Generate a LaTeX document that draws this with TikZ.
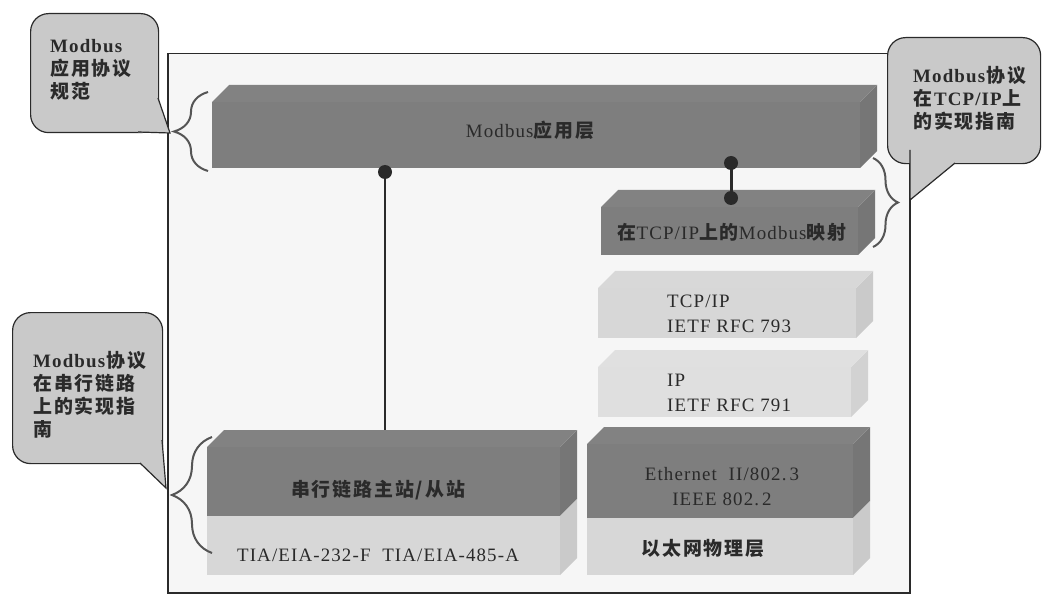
\documentclass[tikz,border=0pt]{standalone}
\usepackage{fontspec}
\setmainfont{Liberation Serif}[LetterSpace=6]
\newfontfamily\cjkf{Noto Sans CJK SC}[LetterSpace=10]
\newcommand\zh[1]{{\cjkf\bfseries #1}}
\usetikzlibrary{decorations.pathreplacing}
\definecolor{boxdark}{HTML}{7E7E7E}
\definecolor{boxlight}{HTML}{D7D7D7}
\definecolor{boxpale}{HTML}{DFDFDF}
\definecolor{callgray}{HTML}{C9C9C9}
\definecolor{framebg}{HTML}{F6F6F6}
\definecolor{ink}{HTML}{2A2A2A}
\definecolor{bracegray}{HTML}{555555}
\newcommand\layerbox[6]{%
  \pgfmathsetmacro\lw{#4-17-(#2)}\pgfmathsetmacro\lh{#5-(#3)-17}%
  \fill[#6!94!black] (#4-17,#3+17) -- (#4,#3) -- (#4,#5-17) -- (#4-17,#5) -- cycle;
  \fill[#6!97!white] (#2,#3+17) -- (#2+17,#3) -- (#4,#3) -- (#4-17,#3+17) -- cycle;
  \node[fill=#6, draw=none, inner sep=0, minimum width=\lw bp, minimum height=\lh bp, anchor=north west] (#1) at (#2,#3+17) {};
}
\newcommand\layerlow[6]{%
  \pgfmathsetmacro\lw{#4-17-(#2)}\pgfmathsetmacro\lh{#5-(#3)}%
  \fill[#6!94!black] (#4-17,#3) -- (#4,#3-17) -- (#4,#5-17) -- (#4-17,#5) -- cycle;
  \node[fill=#6, draw=none, inner sep=0, minimum width=\lw bp, minimum height=\lh bp, anchor=north west] (#1) at (#2,#3) {};
}
\tikzset{
  callout/.style={fill=callgray, draw=ink, line width=1.2bp, rounded corners=18bp, inner sep=0, anchor=north west},
  calltext/.style={align=left, anchor=north west, inner sep=0, text=ink, font=\fontsize{19}{23}\selectfont},
  boxtext/.style={text=ink, inner sep=0, font=\fontsize{19}{25}\selectfont},
  bracestyle/.style={draw=bracegray, line width=2bp, decorate, decoration={brace, amplitude=#1}},
  dot/.style={circle, fill=ink, inner sep=0, minimum size=14bp},
  conn/.style={draw=ink, line width=1.5bp},
}
\begin{document}
\begin{tikzpicture}[x=1bp,y=-1bp]
\useasboundingbox[fill=white] (0,0) rectangle (1042,594);
% frame
\node[draw=ink, fill=framebg, line width=1.5bp, inner sep=0, minimum width=742bp, minimum height=539bp, anchor=north west] (frame) at (167,53) {};

% dots positions and connectors (drawn before boxes)
\coordinate (d1) at (385,172);
\coordinate (d2) at (731,163);
\coordinate (d3) at (731,198);
\coordinate (s1) at (385,440);
\draw[conn] (d1) -- (s1);

% layers
\layerbox{app}{212}{85}{877}{168}{boxdark}
\layerbox{map}{601}{190}{875}{255}{boxdark}
\layerbox{tcp}{598}{271}{873}{338}{boxlight}
\layerbox{ip}{598}{350}{868}{417}{boxpale}
\layerbox{eth}{587}{427}{870}{518}{boxdark}
\layerlow{ethphy}{587}{518}{870}{575}{boxlight}
\layerbox{ser}{207}{430}{577}{516}{boxdark}
\layerlow{serphy}{207}{516}{577}{575}{boxlight}

% link dots
\draw[draw=ink, line width=3bp] (d2) -- (d3);
\node[dot] (dot1) at (d1) {};
\node[dot] (dot2) at (d2) {};
\node[dot] (dot3) at (d3) {};

% layer texts
\node[boxtext] (tapp) at (530,130) {Modbus\zh{应用层}};
\node[boxtext] (tmap) at (732,232) {\zh{在}TCP/IP\zh{上的}Modbus\zh{映射}};
\node[boxtext, align=left, anchor=west] (ttcp) at (667,314) {TCP/IP\\IETF RFC 793};
\node[boxtext, align=left, anchor=west] (tip) at (667,393) {IP\\IETF RFC 791};
\node[boxtext, align=center] (teth) at (722,487) {Ethernet\ \ II/802.\,3\\IEEE 802.\,2};
\node[boxtext] (tethphy) at (703,548) {\zh{以太网物理层}};
\node[boxtext] (tser) at (378,490) {\zh{串行链路主站/从站}};
\node[boxtext] (tserphy) at (378,555) {TIA/EIA-232-F\ \ TIA/EIA-485-A};

% braces
\draw[bracestyle=34bp] (208,171) -- (208,92);
\draw[bracestyle=25bp] (873,158) -- (873,247);
\draw[bracestyle=40bp] (212,553) -- (212,437);

% callout 1 (top left)
\node[callout, minimum width=128bp, minimum height=119bp] (c1) at (30,13) {};
\fill[callgray] (158,98) -- (170,133) -- (138,132.5) -- (150,110) -- cycle;
\draw[draw=ink, line width=1.2bp] (158,98) -- (170,133) -- (138,132);
\node[calltext] (c1t) at (50,39) {\textbf{Modbus}\\\zh{应用协议}\\\zh{规范}};

% callout 2 (top right)
\node[callout, minimum width=153bp, minimum height=126bp] (c2) at (887,37) {};
\fill[callgray] (910,150) -- (910,200) -- (955,163.5) -- (930,150) -- cycle;
\draw[draw=ink, line width=1.2bp] (910,150) -- (910,200) -- (955,163);
\node[calltext] (c2t) at (913,66) {\textbf{Modbus}\zh{协议}\\\zh{在}\textbf{TCP/IP}\zh{上}\\\zh{的实现指南}};

% callout 3 (bottom left)
\node[callout, minimum width=150bp, minimum height=151bp] (c3) at (12,312) {};
\fill[callgray] (162,440) -- (166,488) -- (140,463.5) -- (150,450) -- cycle;
\draw[draw=ink, line width=1.2bp] (162,440) -- (166,488) -- (140,463);
\node[calltext] (c3t) at (33,351) {\textbf{Modbus}\zh{协议}\\\zh{在串行链路}\\\zh{上的实现指}\\\zh{南}};
\end{tikzpicture}
\end{document}
